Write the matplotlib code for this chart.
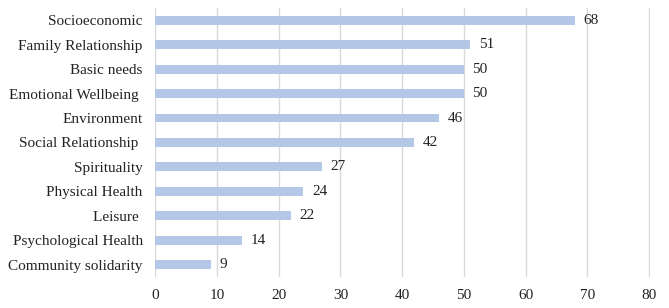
import matplotlib.pyplot as plt

categories = ["Socioeconomic", "Family Relationship", "Basic needs", "Emotional Wellbeing ",
              "Environment", "Social Relationship ", "Spirituality", "Physical Health",
              "Leisure ", "Psychological Health", "Community solidarity"]
values = [68, 51, 50, 50, 46, 42, 27, 24, 22, 14, 9]
xticks = [0, 10, 20, 30, 40, 50, 60, 70, 80]

plt.rcParams['font.family'] = ['Liberation Serif', 'DejaVu Serif']

fig = plt.figure(figsize=(6.69, 3.08), dpi=100)
ax = fig.add_axes([0.232, 0.101, 0.740, 0.873])

ypos = list(range(len(categories)))
ax.barh(ypos, values, height=0.36, color='#B4C7E7', zorder=3)
for y, v in zip(ypos, values):
    ax.text(v + 1.4, y, str(v), va='center', ha='left', fontsize=11, color='#222222')

ax.set_yticks(ypos)
ax.set_yticklabels(categories, fontsize=11, color='#222222')
ax.set_ylim(len(categories) - 0.5, -0.5)
ax.set_xlim(0, 80.2)
ax.set_xticks(xticks)
ax.set_xticklabels([str(t) for t in xticks], fontsize=11, color='#222222')
ax.grid(axis='x', color='#D9D9D9', linewidth=1, zorder=0)
ax.tick_params(length=0)
ax.tick_params(axis='y', pad=9)
ax.tick_params(axis='x', pad=9)
for s in ax.spines.values():
    s.set_visible(False)

fig.savefig('out.png', dpi=100)
